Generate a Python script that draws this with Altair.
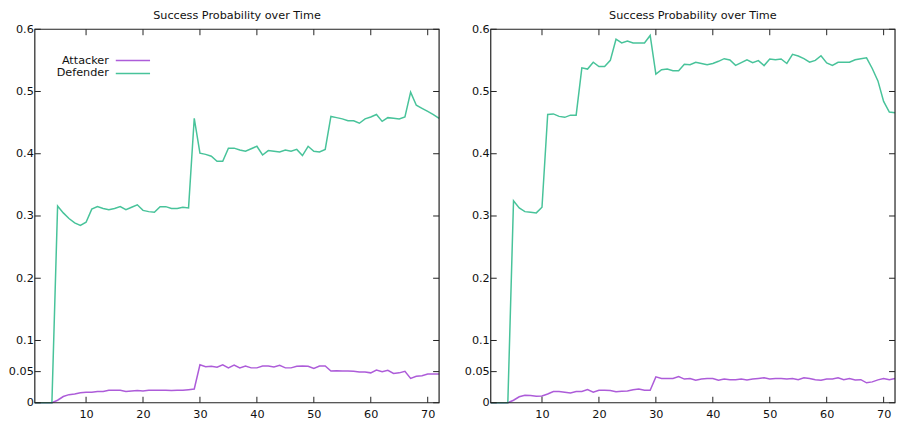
import altair as alt
import pandas as pd

steps = list(range(1, 73))

left_attacker = [0, 0, 0, 0, 0.004, 0.010, 0.013, 0.014, 0.016, 0.017,
                 0.017, 0.018, 0.018, 0.020, 0.020, 0.020, 0.018, 0.019, 0.0195, 0.019,
                 0.020, 0.020, 0.020, 0.020, 0.0195, 0.020, 0.020, 0.021, 0.022, 0.061,
                 0.058, 0.0585, 0.057, 0.061, 0.056, 0.0605, 0.056, 0.059, 0.056, 0.056,
                 0.059, 0.059, 0.0575, 0.060, 0.056, 0.056, 0.0585, 0.059, 0.0585, 0.055,
                 0.059, 0.059, 0.051, 0.0515, 0.051, 0.051, 0.0505, 0.0495, 0.0495, 0.048,
                 0.0525, 0.050, 0.052, 0.047, 0.048, 0.0505, 0.039, 0.0425, 0.0435, 0.046,
                 0.046, 0.046]
left_defender = [0, 0, 0, 0, 0.316, 0.305, 0.296, 0.289, 0.285, 0.290,
                 0.311, 0.315, 0.312, 0.310, 0.312, 0.315, 0.310, 0.314, 0.318, 0.309,
                 0.307, 0.306, 0.315, 0.315, 0.312, 0.312, 0.314, 0.313, 0.457, 0.401,
                 0.399, 0.396, 0.388, 0.388, 0.409, 0.409, 0.406, 0.404, 0.408, 0.412,
                 0.398, 0.405, 0.404, 0.403, 0.406, 0.404, 0.407, 0.397, 0.412, 0.404,
                 0.403, 0.407, 0.460, 0.458, 0.456, 0.453, 0.453, 0.449, 0.456, 0.459,
                 0.463, 0.452, 0.458, 0.457, 0.456, 0.459, 0.499, 0.478, 0.473, 0.468,
                 0.463, 0.457]
right_attacker = [0, 0, 0, 0, 0.004, 0.0096, 0.012, 0.0117, 0.0106, 0.011,
                  0.014, 0.018, 0.018, 0.017, 0.0155, 0.018, 0.018, 0.021, 0.017, 0.020,
                  0.020, 0.0197, 0.0175, 0.0186, 0.019, 0.021, 0.022, 0.020, 0.020, 0.0415,
                  0.039, 0.039, 0.039, 0.042, 0.038, 0.039, 0.036, 0.038, 0.039, 0.039,
                  0.036, 0.038, 0.037, 0.037, 0.038, 0.0367, 0.038, 0.039, 0.040, 0.038,
                  0.039, 0.039, 0.038, 0.039, 0.037, 0.040, 0.039, 0.037, 0.036, 0.038,
                  0.038, 0.040, 0.037, 0.039, 0.0367, 0.037, 0.032, 0.0335, 0.0367, 0.039,
                  0.037, 0.039]
right_defender = [0, 0, 0, 0, 0.3245, 0.313, 0.307, 0.306, 0.305, 0.314,
                  0.463, 0.464, 0.460, 0.4585, 0.462, 0.462, 0.538, 0.536, 0.547, 0.540,
                  0.540, 0.550, 0.584, 0.578, 0.581, 0.578, 0.578, 0.578, 0.590, 0.528,
                  0.535, 0.536, 0.5335, 0.5335, 0.5436, 0.543, 0.547, 0.545, 0.543, 0.545,
                  0.5485, 0.5527, 0.5506, 0.542, 0.5464, 0.551, 0.5464, 0.5496, 0.5416, 0.5522,
                  0.551, 0.5522, 0.545, 0.5596, 0.557, 0.5527, 0.547, 0.550, 0.5575, 0.5458,
                  0.542, 0.547, 0.547, 0.547, 0.551, 0.5527, 0.554, 0.537, 0.517, 0.484,
                  0.467, 0.466]

series_names = ["Attacker", "Defender"]
series_colors = ["#ad5cd9", "#48c39a"]
title_text = "Success Probability over Time"
x_ticks = [10, 20, 30, 40, 50, 60, 70]
y_ticks = [0, 0.05, 0.1, 0.2, 0.3, 0.4, 0.5, 0.6]

FONT = "DejaVu Sans"
FS = 11.3
INK = "#222222"
W, H, TL = 407, 376, 6


def make_df(att, dfd):
    rows = []
    for s, a in zip(steps, att):
        rows.append({"t": s, "series": series_names[0], "p": a})
    for s, d in zip(steps, dfd):
        rows.append({"t": s, "series": series_names[1], "p": d})
    return pd.DataFrame(rows)


x_scale = alt.Scale(domain=[1, 72], nice=False, zero=False)
y_scale = alt.Scale(domain=[0, 0.6], nice=False)
one_row = pd.DataFrame({"k": [0]})
xt_df = pd.DataFrame({"xv": x_ticks})
yt_df = pd.DataFrame({"yv": y_ticks})


def legend_layers():
    layers = []
    for i, (name, col) in enumerate(zip(series_names, series_colors)):
        yy = 31.5 + 13 * i
        layers.append(alt.Chart(one_row).mark_text(
            align="right", baseline="middle", font=FONT, fontSize=FS, color="#111111"
        ).encode(x=alt.value(74.5), y=alt.value(yy), text=alt.value(name)))
        layers.append(alt.Chart(one_row).mark_rule(color=col, strokeWidth=1.5).encode(
            x=alt.value(81.5), x2=alt.value(116), y=alt.value(yy)))
    return layers


def tick_layers():
    out = []
    for y0, y1 in ((H - TL, H), (0, TL)):
        out.append(alt.Chart(xt_df).mark_rule(color=INK, strokeWidth=1).encode(
            x=alt.X("xv:Q", scale=x_scale, axis=None), y=alt.value(y0), y2=alt.value(y1)))
    for x0, x1 in ((0, TL), (W - TL, W)):
        out.append(alt.Chart(yt_df).mark_rule(color=INK, strokeWidth=1).encode(
            y=alt.Y("yv:Q", scale=y_scale, axis=None), x=alt.value(x0), x2=alt.value(x1)))
    out.append(alt.Chart(one_row).mark_rect(fill=None, stroke=INK, strokeWidth=1.2).encode(
        x=alt.value(0), x2=alt.value(W), y=alt.value(0), y2=alt.value(H)))
    return out


def panel(df, show_legend):
    lines = alt.Chart(df).mark_line(strokeWidth=1.5).encode(
        x=alt.X("t:Q", scale=x_scale,
                axis=alt.Axis(values=x_ticks, title=None, grid=False, domain=False, ticks=False,
                              labelPadding=6, labelFont=FONT, labelFontSize=FS,
                              labelColor="#111111", labelFlush=False, minExtent=0)),
        y=alt.Y("p:Q", scale=y_scale,
                axis=alt.Axis(values=y_ticks, format="~g", title=None, grid=False, domain=False,
                              ticks=False, labelPadding=1.5, labelFont=FONT, labelFontSize=FS,
                              labelColor="#111111", labelFlush=False, minExtent=0)),
        color=alt.Color("series:N", scale=alt.Scale(domain=series_names, range=series_colors),
                        legend=None),
    )
    layers = [lines] + tick_layers() + (legend_layers() if show_legend else [])
    return alt.layer(*layers).resolve_axis(x="independent", y="independent").properties(
        width=W, height=H,
        title=alt.TitleParams(text=title_text, font=FONT, fontSize=FS, fontWeight="normal",
                              color="#111111", frame="group", anchor="middle", offset=2),
    )


left = panel(make_df(left_attacker, left_defender), True)
right = panel(make_df(right_attacker, right_defender), False)

chart = alt.hconcat(left, right, spacing=22).properties(
    padding=0
).configure(background="white").configure_view(stroke=None)

chart.save("out.html", embed_options={"renderer": "svg", "actions": False})
